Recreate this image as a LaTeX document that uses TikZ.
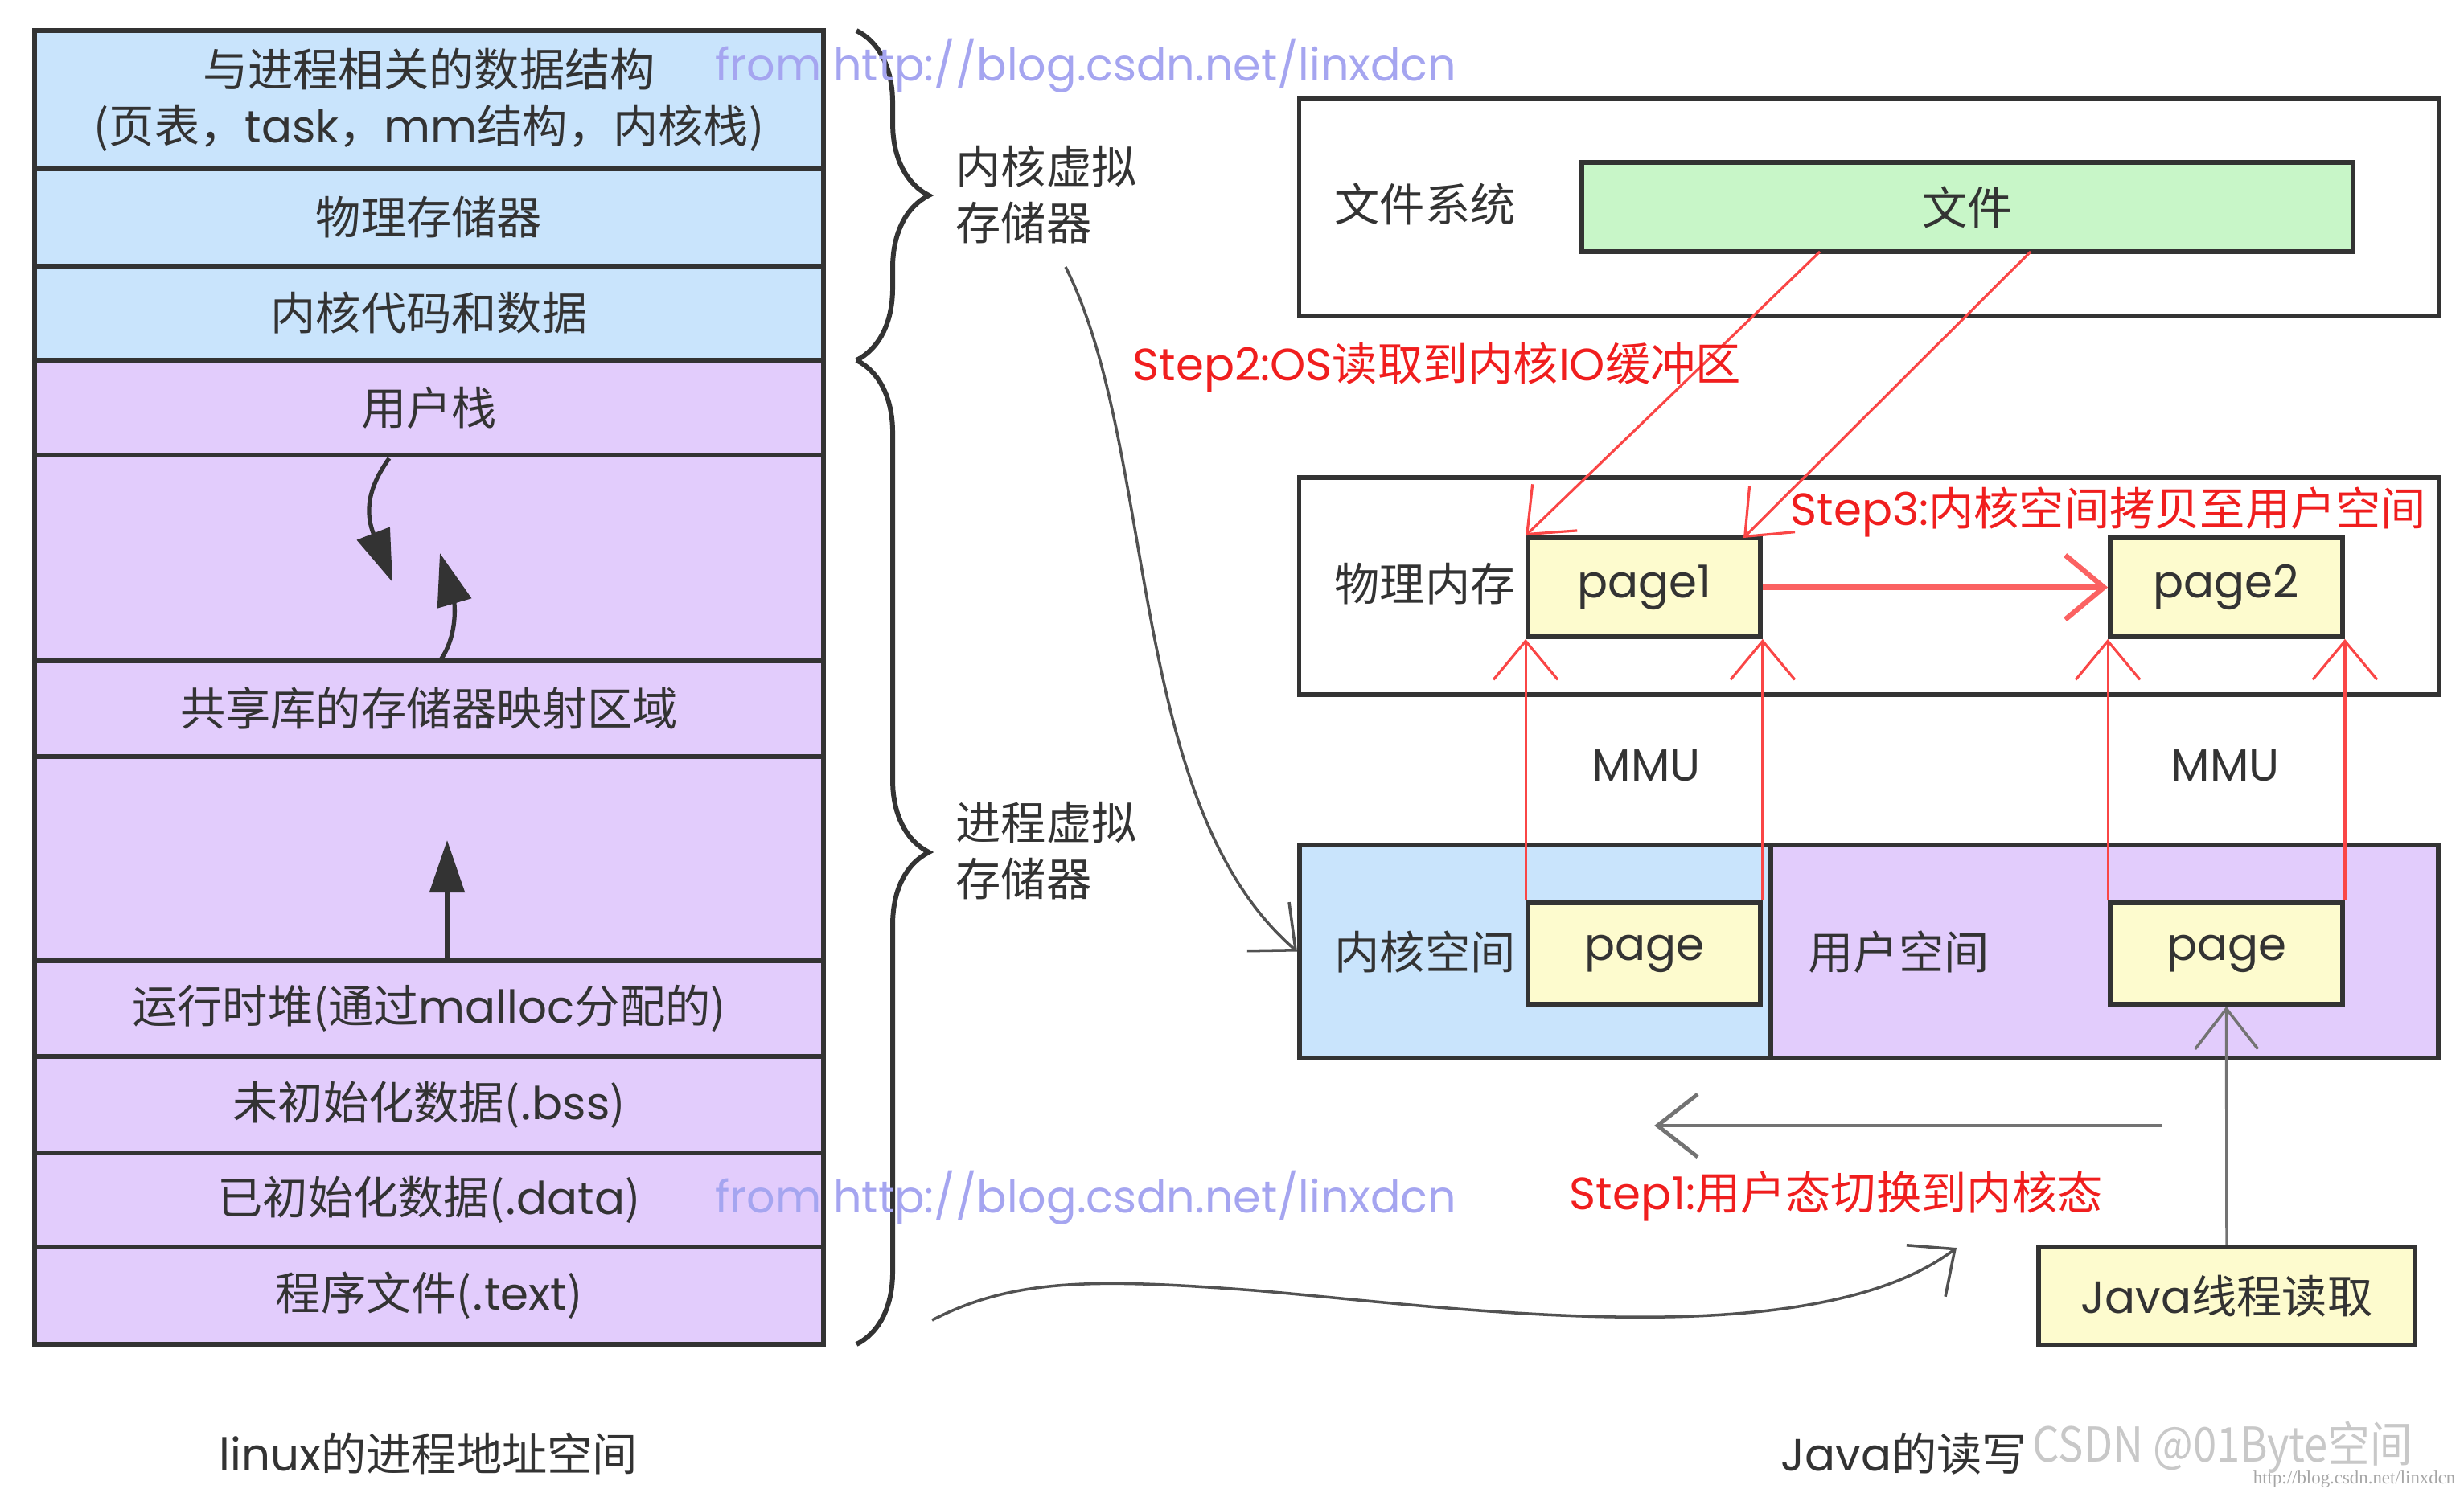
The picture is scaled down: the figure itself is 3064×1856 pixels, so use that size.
\documentclass[tikz,border=0pt]{standalone}
\usepackage{fontspec}
\usepackage{graphicx}
\setmainfont{Noto Sans CJK SC}
\newfontfamily\lat{Poppins}
\newfontfamily\serifwm{Liberation Serif}
\usetikzlibrary{arrows.meta,decorations.pathreplacing,calc}
\definecolor{kblue}{RGB}{201,228,252}
\definecolor{upurple}{RGB}{226,204,252}
\definecolor{fgreen}{RGB}{200,246,200}
\definecolor{pyellow}{RGB}{253,251,206}
\definecolor{edge}{RGB}{51,51,51}
\definecolor{txt}{RGB}{51,51,51}
\definecolor{redline}{RGB}{250,70,70}
\definecolor{redtxt}{RGB}{240,30,30}
\definecolor{wmblue}{RGB}{165,165,240}
\definecolor{grayline}{RGB}{115,115,115}
\definecolor{csdngray}{RGB}{200,200,200}
\begin{document}
\begin{tikzpicture}[x=0.01cm,y=-0.01cm,
  every node/.style={text=txt, font=\fontsize{16pt}{20pt}\selectfont},
  rowbox/.style={draw=edge, line width=1.7pt, minimum width=9.81cm, inner sep=0pt, align=center},
  box/.style={draw=edge, line width=1.6pt, inner sep=0pt},
  pagebox/.style={box, fill=pyellow, minimum width=2.89cm},
  plain/.style={inner sep=0pt},
  redlabel/.style={text=redtxt, inner sep=0pt, anchor=west},
  darkarrow/.style={draw=edge, line width=1.5pt, -{Triangle[length=0.65cm,width=0.43cm]}},
  redarrow/.style={draw=redline, line width=0.9pt, -{Straight Barb[length=0.48cm,width=0.8cm]}},
  grayarrow/.style={draw=grayline, line width=1pt, -{Straight Barb[length=0.5cm,width=0.78cm]}},
  curvearrow/.style={draw=edge!85, line width=1pt, -{Straight Barb[length=0.45cm,width=0.8cm]}},
  bracestyle/.style={draw=edge, line width=1.7pt, decorate, decoration={brace, amplitude=0.9cm}},
  wm/.style={anchor=west, inner sep=0pt, text=wmblue, font=\lat\fontsize{15.8pt}{20pt}\selectfont}
]
\useasboundingbox (0,0) rectangle (3064,1856);

% ---------- left stack ----------
\node[rowbox, fill=kblue, minimum height=1.72cm] (r1) at (533.5,124) {与进程相关的数据结构\\(页表，{\lat task}，{\lat mm}结构，内核栈)};
\node[rowbox, fill=kblue, minimum height=1.21cm] (r2) at (533.5,270.5) {物理存储器};
\node[rowbox, fill=kblue, minimum height=1.17cm] (r3) at (533.5,389.5) {内核代码和数据};
\node[rowbox, fill=upurple, minimum height=1.18cm] (r4) at (533.5,507) {用户栈};
\node[rowbox, fill=upurple, minimum height=2.56cm] (r5) at (533.5,694) {};
\node[rowbox, fill=upurple, minimum height=1.19cm] (r6) at (533.5,881.5) {共享库的存储器映射区域};
\node[rowbox, fill=upurple, minimum height=2.54cm] (r7) at (533.5,1068) {};
\node[rowbox, fill=upurple, minimum height=1.19cm] (r8) at (533.5,1254.5) {运行时堆(通过{\lat malloc}分配的)};
\node[rowbox, fill=upurple, minimum height=1.20cm] (r9) at (533.5,1374) {未初始化数据(.{\lat bss})};
\node[rowbox, fill=upurple, minimum height=1.17cm] (r10) at (533.5,1492.5) {已初始化数据(.{\lat data})};
\node[rowbox, fill=upurple, minimum height=1.21cm] (r11) at (533.5,1611.5) {程序文件(.{\lat text})};

% arrows inside stack
\coordinate (sd1) at (484,570);
\coordinate (sd2) at (488,724);
\draw[darkarrow] (sd1) .. controls (455,610) and (455,640) .. (sd2);
\coordinate (su1) at (547,822);
\coordinate (su2) at (547,688);
\draw[darkarrow] (su1) .. controls (570,790) and (565,750) .. (su2);
\coordinate (hu1) at (556,1195);
\coordinate (hu2) at (556,1045);
\draw[darkarrow] (hu1) -- (hu2);

% braces
\coordinate (b1t) at (1065,38);
\coordinate (b1b) at (1065,448);
\coordinate (b2b) at (1065,1672);
\draw[bracestyle] (b1t) -- (b1b);
\draw[bracestyle] (b1b) -- (b2b);
\node[anchor=west, align=left, inner sep=0pt] (kvlabel) at (1188,242) {内核虚拟\\存储器};
\node[anchor=west, align=left, inner sep=0pt] (pvlabel) at (1188,1058) {进程虚拟\\存储器};

% ---------- right side ----------
\node[box, minimum width=14.16cm, minimum height=2.70cm] (fs) at (2324,258) {};
\node[box, fill=fgreen, minimum width=9.59cm, minimum height=1.11cm] (file) at (2446.5,257.5) {文件};
\node[plain] (fslabel) at (1772,254) {文件系统};

\node[box, minimum width=14.16cm, minimum height=2.70cm] (pm) at (2324,729) {};
\node[plain] (pmlabel) at (1772,726) {物理内存};
\node[pagebox, minimum height=1.23cm] (page1) at (2044.5,730.5) {\lat page1};
\node[pagebox, minimum height=1.23cm] (page2) at (2768.5,730.5) {\lat page2};

\node[box, fill=kblue, minimum width=5.86cm, minimum height=2.65cm] (ks) at (1909,1183.5) {};
\node[box, fill=upurple, minimum width=8.30cm, minimum height=2.65cm] (us) at (2617,1183.5) {};
\node[plain] (kslabel) at (1772,1184) {内核空间};
\node[plain] (uslabel) at (2361,1184) {用户空间};
\node[pagebox, minimum height=1.26cm] (kpage) at (2044.5,1186) {\lat page};
\node[pagebox, minimum height=1.26cm] (upage) at (2768.5,1186) {\lat page};

\node[plain, font=\lat\fontsize{16pt}{20pt}\selectfont] (mmu1) at (2047,952) {MMU};
\node[plain, font=\lat\fontsize{16pt}{20pt}\selectfont] (mmu2) at (2767,952) {MMU};

\node[box, fill=pyellow, minimum width=4.68cm, minimum height=1.22cm] (java) at (2769,1612) {{\lat Java}线程读取};

% red arrows
\coordinate (f1) at (2263,313);
\coordinate (f2) at (2525,313);
\coordinate (t2) at (2168,669);
\draw[redarrow] (f1) -- (page1.north west);
\draw[redarrow] (f2) -- (t2);
\draw[redarrow, line width=1.8pt, draw=redline!85] (page1.east) -- (page2.west);
\draw[redarrow] (kpage.north west) -- (page1.south west);
\draw[redarrow] (kpage.north east) -- (page1.south east);
\draw[redarrow] (upage.north west) -- (page2.south west);
\draw[redarrow] (upage.north east) -- (page2.south east);

% gray arrows
\draw[grayarrow] (java.north) -- (upage.south);
\coordinate (g1) at (2689,1400);
\coordinate (g2) at (2057,1400);
\draw[grayarrow, line width=1.4pt] (g1) -- (g2);

% curves
\coordinate (c1s) at (1325,332);
\draw[curvearrow] (c1s) .. controls (1440,560) and (1400,1000) .. (ks.west);
\coordinate (c2s) at (1159,1642);
\coordinate (c2m) at (1560,1605);
\coordinate (c2e) at (2433,1552);
\draw[curvearrow] (c2s) .. controls (1260,1590) and (1360,1590) .. (c2m) .. controls (1800,1625) and (2250,1690) .. (c2e);

% red step labels
\node[redlabel] (step2) at (1408,457) {{\lat Step2:OS}读取到内核{\lat IO}缓冲区};
\node[redlabel] (step3) at (2226,637) {{\lat Step3:}内核空间拷贝至用户空间};
\node[redlabel] (step1) at (1951,1488) {{\lat Step1:}用户态切换到内核态};

% watermarks
\node[wm] (wm1) at (889,82) {from http://blog.csdn.net/linxdcn};
\node[wm] (wm2) at (889,1490) {from http://blog.csdn.net/linxdcn};

% bottom labels
\node[plain] (lbl1) at (533,1808) {{\lat linux}的进程地址空间};
\node[plain, anchor=west] (lbl2) at (2214,1808) {{\lat Java}的读写};
\node[plain, anchor=west, text=csdngray, font=\fontsize{17pt}{20pt}\selectfont] (csdn) at (2527,1800) {\scalebox{0.88}[1]{CSDN @01Byte空间}};
\node[plain, anchor=east, text=gray!70, font=\serifwm\fontsize{6.5pt}{7pt}\selectfont] (tinywm) at (3054,1840) {http://blog.csdn.net/linxdcn};
\end{tikzpicture}
\end{document}
